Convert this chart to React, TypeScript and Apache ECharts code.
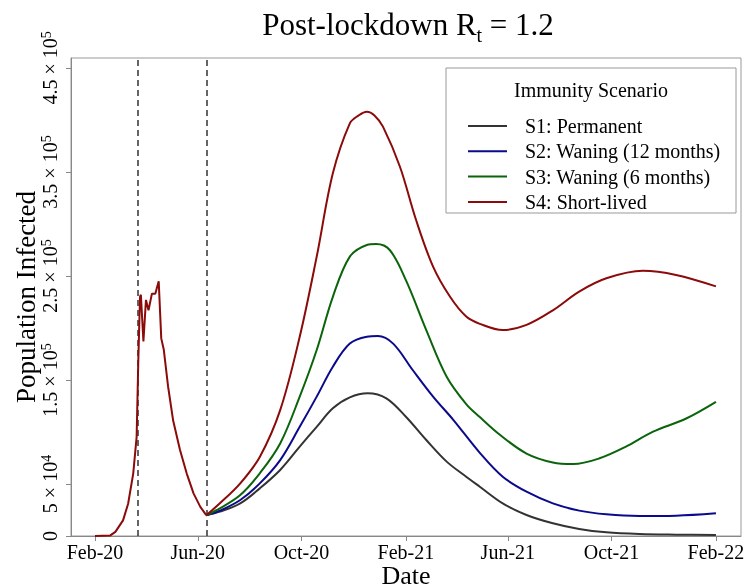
import React, { useEffect, useRef } from 'react';
import * as echarts from 'echarts';

// ---- Data ----
const earlyDates = ['2020-02-01', '2020-02-19', '2020-02-25', '2020-03-05', '2020-03-11', '2020-03-17', '2020-03-21', '2020-03-23', '2020-03-25', '2020-03-26', '2020-03-29', '2020-04-01', '2020-04-04', '2020-04-08', '2020-04-12', '2020-04-16', '2020-04-19', '2020-04-22', '2020-04-27', '2020-05-03', '2020-05-11', '2020-05-19', '2020-05-27', '2020-06-04', '2020-06-11'];
const earlyValues = [0, 600, 4000, 15000, 31000, 60000, 95000, 169000, 230000, 232000, 187000, 227000, 217000, 233000, 233000, 245000, 190000, 179000, 144000, 111000, 83000, 60000, 41000, 28000, 20000];

const s1Dates = ['2020-06-11', '2020-06-27', '2020-07-21', '2020-08-13', '2020-09-06', '2020-09-29', '2020-10-19', '2020-11-07', '2020-11-27', '2020-12-18', '2021-01-09', '2021-02-01', '2021-02-25', '2021-03-21', '2021-04-13', '2021-04-29', '2021-05-26', '2021-06-23', '2021-07-24', '2021-08-24', '2021-09-25', '2021-11-03', '2021-12-16', '2022-02-01'];
const s1Values = [20000, 23400, 31400, 45800, 63500, 85900, 105000, 122800, 133300, 137200, 132400, 114700, 92300, 71500, 57000, 47400, 31400, 20200, 12200, 6700, 3500, 1900, 1300, 1000];

const s2Dates = ['2020-06-11', '2020-06-27', '2020-07-21', '2020-08-13', '2020-09-06', '2020-09-29', '2020-10-19', '2020-11-07', '2020-11-27', '2020-12-17', '2020-12-30', '2021-01-17', '2021-02-09', '2021-03-05', '2021-03-29', '2021-04-29', '2021-05-26', '2021-06-23', '2021-07-24', '2021-08-24', '2021-09-25', '2021-11-03', '2021-12-16', '2022-02-01'];
const s2Values = [20000, 24300, 34600, 50600, 73000, 105000, 134000, 162800, 185000, 191600, 192300, 185000, 159600, 134000, 111500, 80000, 57000, 42600, 31400, 24400, 20800, 19200, 19500, 21800];

const s3Dates = ['2020-06-11', '2020-06-27', '2020-07-21', '2020-08-13', '2020-09-06', '2020-09-29', '2020-10-19', '2020-11-07', '2020-11-27', '2020-12-17', '2020-12-28', '2021-01-13', '2021-02-01', '2021-02-25', '2021-03-21', '2021-04-13', '2021-04-29', '2021-05-23', '2021-06-23', '2021-07-24', '2021-08-17', '2021-09-17', '2021-10-18', '2021-11-19', '2021-12-28', '2022-02-01'];
const s3Values = [20000, 26600, 39400, 60300, 89000, 134000, 178800, 230000, 268600, 279800, 280800, 275000, 246000, 198000, 153200, 126900, 114400, 97100, 79300, 70700, 69200, 74700, 85900, 100300, 113000, 129000];

const s4Dates = ['2020-06-11', '2020-06-27', '2020-07-21', '2020-08-13', '2020-09-06', '2020-09-29', '2020-10-19', '2020-11-07', '2020-11-27', '2020-12-07', '2020-12-17', '2020-12-26', '2021-01-05', '2021-01-25', '2021-02-13', '2021-03-05', '2021-03-25', '2021-04-13', '2021-04-29', '2021-05-26', '2021-06-23', '2021-07-24', '2021-08-24', '2021-09-25', '2021-11-07', '2021-12-16', '2022-02-01'];
const s4Values = [20000, 31400, 50600, 76000, 121000, 191600, 268600, 348700, 396800, 404200, 408000, 404400, 393600, 355000, 303800, 259000, 230000, 211000, 204000, 198000, 203000, 217000, 235000, 247800, 255000, 251000, 240000];

const seriesNames = ['S1: Permanent', 'S2: Waning (12 months)', 'S3: Waning (6 months)', 'S4: Short-lived'];
const lockdownDates = ['2020-03-22', '2020-06-11'];

const xTickDates = ['2020-02-01', '2020-06-01', '2020-10-01', '2021-02-01', '2021-06-01', '2021-10-01', '2022-02-01'];
const xTickLabels = ['Feb-20', 'Jun-20', 'Oct-20', 'Feb-21', 'Jun-21', 'Oct-21', 'Feb-22'];

const yTickValues = [0, 50000, 150000, 250000, 350000, 450000];
const yTickMantissa = ['0', '5', '1.5', '2.5', '3.5', '4.5'];
const yTickExponent = ['', '4', '5', '5', '5', '5'];

const FONT = "'Liberation Serif', 'DejaVu Serif', serif";
const DAY = 86400000;

const toTs = (s: string) => {
  const [y, m, d] = s.split('-').map(Number);
  return new Date(y, m - 1, d).getTime();
};

const pairs = (dates: string[], values: number[]) => dates.map((d, i) => [toTs(d), values[i]]);

export default function App() {
  const ref = useRef<HTMLDivElement>(null);

  useEffect(() => {
    document.body.style.margin = '0';
    if (!ref.current) return;
    const chart = echarts.init(ref.current, undefined, { renderer: 'svg' });

    const colors = ['#333333', '#0a0a8b', '#0b640b', '#8b0a0a'];
    const xTickTs = xTickDates.map(toTs);

    const lineSeries = [
      [s1Dates, s1Values],
      [s2Dates, s2Values],
      [s3Dates, s3Values],
      [s4Dates, s4Values],
    ].map(([d, v], i) => ({
      type: 'line',
      name: seriesNames[i],
      data: pairs(d as string[], v as number[]),
      showSymbol: false,
      smooth: 0.35,
      color: colors[i],
      lineStyle: { color: colors[i], width: 2 },
      z: 3 + i,
    }));

    chart.setOption({
      animation: false,
      textStyle: { fontFamily: FONT },
      title: {
        text: '{a|Post-lockdown R}{s|t}{a| = 1.2}',
        left: 403,
        textAlign: 'center',
        top: 3,
        textStyle: {
          fontFamily: FONT,
          fontWeight: 'normal',
          rich: {
            a: { fontSize: 31, fontFamily: FONT, color: '#000', lineHeight: 32 },
            s: { fontSize: 20, fontFamily: FONT, color: '#000', verticalAlign: 'bottom', lineHeight: 32, padding: [0, 0, -5, 0] },
          },
        },
      },
      grid: {
        left: 71,
        right: 3,
        top: 58,
        bottom: 48,
        show: true,
        borderColor: '#999',
        borderWidth: 1,
        backgroundColor: 'transparent',
        outerBoundsMode: 'none',
        containLabel: false,
      },
      legend: {
        data: seriesNames,
        orient: 'vertical',
        left: 463,
        top: 111,
        itemWidth: 39,
        itemHeight: 2,
        itemGap: 5.3,
        icon: 'rect',
        formatter: (name: string) => '{p|}{n|' + name + '}',
        textStyle: {
          fontFamily: FONT,
          fontSize: 20,
          color: '#000',
          rich: {
            p: { width: 13 },
            n: { fontSize: 20, fontFamily: FONT, color: '#000', lineHeight: 20 },
          },
        },
        selectedMode: false,
        z: 10,
      },
      graphic: [
        {
          type: 'rect',
          shape: { x: 446, y: 68, width: 290, height: 145 },
          style: { fill: '#fff', stroke: '#999', lineWidth: 1 },
          z: 5,
        },
        {
          type: 'text',
          x: 591,
          y: 90,
          style: {
            text: 'Immunity Scenario',
            fontFamily: FONT,
            fontSize: 20,
            fill: '#000',
            textAlign: 'center',
            textVerticalAlign: 'middle',
          },
          z: 6,
        },
      ],
      xAxis: {
        type: 'value',
        min: toTs('2020-02-01') - 28.25 * DAY,
        max: toTs('2022-02-01') + 29.5 * DAY,
        splitLine: { show: false },
        axisLine: { show: true, lineStyle: { color: '#888', width: 1 } },
        axisTick: { show: true, length: 5, customValues: xTickTs, lineStyle: { color: '#888' } },
        axisLabel: {
          customValues: xTickTs,
          fontFamily: FONT,
          fontSize: 20,
          color: '#000',
          margin: 6,
          hideOverlap: false,
          formatter: (val: number) => {
            const idx = xTickTs.findIndex((t) => Math.abs(t - val) < DAY / 2);
            return idx >= 0 ? xTickLabels[idx] : '';
          },
        },
        name: 'Date',
        nameLocation: 'middle',
        nameGap: 26,
        nameMoveOverlap: false,
        nameTextStyle: { fontFamily: FONT, fontSize: 26, color: '#000' },
      },
      yAxis: {
        type: 'value',
        min: 0,
        max: 459600,
        splitLine: { show: false },
        axisLine: { show: true, lineStyle: { color: '#888', width: 1 } },
        axisTick: { show: true, length: 5, customValues: yTickValues, lineStyle: { color: '#888' } },
        axisLabel: {
          customValues: yTickValues,
          rotate: 90,
          margin: 10,
          color: '#000',
          fontFamily: FONT,
          fontSize: 20,
          formatter: (val: number) => {
            const idx = yTickValues.findIndex((t) => Math.abs(t - val) < 1);
            if (idx < 0) return '';
            if (!yTickExponent[idx]) return '{m|' + yTickMantissa[idx] + '}';
            return '{m|' + yTickMantissa[idx] + ' × 10}{e|' + yTickExponent[idx] + '}';
          },
          rich: {
            m: { fontSize: 20, fontFamily: FONT, color: '#000', lineHeight: 22 },
            e: { fontSize: 14, fontFamily: FONT, color: '#000', verticalAlign: 'top', lineHeight: 22 },
          },
        },
        name: 'Population Infected',
        nameLocation: 'middle',
        nameRotate: 90,
        nameGap: 32,
        nameMoveOverlap: false,
        nameTextStyle: { fontFamily: FONT, fontSize: 27, color: '#000' },
      },
      series: [
        ...lineSeries,
        {
          type: 'line',
          name: 'early',
          data: pairs(earlyDates, earlyValues),
          showSymbol: false,
          smooth: false,
          color: colors[3],
          lineStyle: { color: colors[3], width: 2 },
          z: 8,
          markLine: {
            symbol: 'none',
            silent: true,
            label: { show: false },
            lineStyle: { color: '#333', type: [6, 4], width: 1.5 },
            data: lockdownDates.map((d) => ({ xAxis: toTs(d) })),
          },
        },
      ],
    });

    return () => chart.dispose();
  }, []);

  return <div ref={ref} style={{ position: 'fixed', left: 0, top: 0, width: 744, height: 584 }} />;
}
